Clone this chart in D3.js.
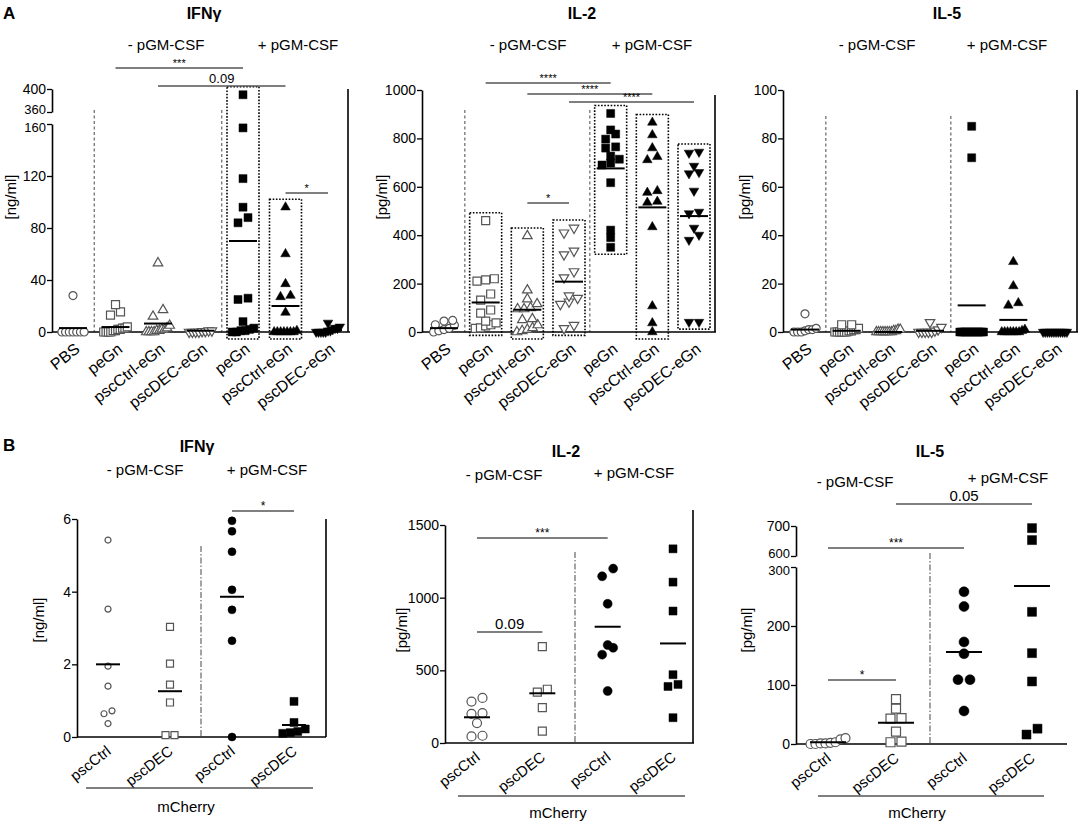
<!DOCTYPE html>
<html>
<head>
<meta charset="utf-8">
<script src="https://cdn.jsdelivr.net/npm/d3@7"></script>
<style>
  body { margin: 0; background: #fff; }
  svg { display: block; }
</style>
</head>
<body>
<svg id="fig" width="1084" height="825"></svg>
<script>
// ---- categories ----
var catsA = ['PBS', 'peGn', 'pscCtrl-eGn', 'pscDEC-eGn', 'peGn', 'pscCtrl-eGn', 'pscDEC-eGn'];
var catsB = ['pscCtrl', 'pscDEC', 'pscCtrl', 'pscDEC'];
var shapesA = ['circle', 'square', 'triangle', 'triangleDown', 'square', 'triangle', 'triangleDown'];
var filledA = [false, false, false, false, true, true, true];
var shapesB = ['circle', 'square', 'circle', 'square'];
var filledB = [false, false, true, true];

// ---- panel A : IFNγ [ng/ml] ----
var ifngA = [
  [28, 0, 0, 0, 0, 0, 0, 0],
  [21, 15.5, 13, 4, 3, 3, 2, 2, 1, 1, 0, 0, 0, 0],
  [53, 17, 12, 5, 3, 2, 2, 1, 1, 0, 0, 0, 0],
  [1, 1, 0.5, 0.5, 0, 0, 0, 0],
  [390, 157, 118, 96, 88, 84, 26, 25, 8, 3, 2, 1, 1, 0, 0],
  [96, 60, 37, 28, 27, 15, 1, 0, 0, 0, 0, 0, 0, 0],
  [7, 4, 3, 3, 2, 1, 1, 0, 0, 0, 0, 0]
];
var ifngAMeans = [3, 3.8, 6.5, 1, 70, 20, 1.5];
var ifngATicksLow = [0, 40, 80, 120, 160];
var ifngATicksHigh = [360, 400];
var ifngASig = [[1, 4, '***'], [2, 5, '0.09'], [5, 6, '*']];

// ---- panel A : IL-2 [pg/ml] ----
var il2A = [
  [48, 45, 30, 28, 15, 10, 5, 0],
  [460, 220, 215, 210, 157, 132, 91, 78, 45, 38, 30, 25, 17, 15],
  [397, 173, 136, 116, 100, 95, 95, 54, 50, 29, 17, 10, 5, 0],
  [430, 410, 335, 320, 250, 225, 150, 140, 125, 115, 28, 15],
  [903, 835, 818, 797, 765, 760, 727, 714, 698, 690, 617, 421, 390, 350],
  [866, 814, 760, 724, 711, 583, 576, 539, 535, 434, 107, 37, 0],
  [744, 740, 686, 660, 655, 583, 496, 490, 430, 401, 380, 41, 41]
];
var il2AMeans = [16, 122, 92, 208, 676, 515, 479];
var il2ATicks = [0, 200, 400, 600, 800, 1000];
var il2ASig = [[1, 4, '****'], [2, 5, '****'], [3, 6, '****'], [2, 3, '*']];

// ---- panel A : IL-5 [pg/ml] ----
var il5A = [
  [7.5, 1.5, 1, 1, 0.5, 0, 0, 0],
  [3, 3, 1.5, 1, 1, 0.5, 0.5, 0, 0, 0, 0, 0, 0],
  [1, 1, 0.5, 0.5, 0, 0, 0, 0, 0, 0, 0, 0],
  [4, 2, 1, 0.5, 0, 0, 0, 0, 0],
  [85, 72, 0, 0, 0, 0, 0, 0, 0, 0, 0, 0, 0],
  [29, 19, 12, 11, 1, 0.5, 0, 0, 0, 0, 0, 0, 0],
  [0, 0, 0, 0, 0, 0, 0, 0, 0, 0, 0, 0]
];
var il5AMeans = [1, 0.5, 0, 0.5, 11, 5, 0];
var il5ATicks = [0, 20, 40, 60, 80, 100];

// ---- panel B : IFNγ [ng/ml] ----
var ifngB = [
  [5.42, 3.52, 1.95, 1.4, 0.72, 0.64, 0.37],
  [3.03, 2.02, 1.44, 0.95, 0.05, 0.05],
  [5.95, 5.66, 5.1, 4.05, 3.5, 2.65, 0],
  [0.98, 0.4, 0.22, 0.15, 0.12, 0.1]
];
var ifngBMeans = [2.0, 1.26, 3.86, 0.33];
var ifngBTicks = [0, 2, 4, 6];
var ifngBSig = [[2, 3, '*']];

// ---- panel B : IL-2 [pg/ml] ----
var il2B = [
  [310, 285, 205, 200, 137, 50, 45],
  [663, 370, 350, 243, 82],
  [1200, 1147, 958, 674, 655, 608, 358],
  [1336, 1107, 908, 470, 403, 389, 174]
];
var il2BMeans = [177, 342, 800, 685];
var il2BTicks = [0, 500, 1000, 1500];
var il2BSig = [[0, 2, '***'], [0, 1, '0.09']];

// ---- panel B : IL-5 [pg/ml] ----
var il5B = [
  [10, 8, 3, 2, 1, 1, 0, 0],
  [76, 60, 44, 43, 21, 4, 3],
  [258, 233, 173, 153, 109, 109, 56],
  [693, 653, 224, 154, 106, 26, 16]
];
var il5BMeans = [3, 36, 156, 268];
var il5BTicksLow = [0, 100, 200, 300];
var il5BTicksHigh = [600, 700];
var il5BSig = [[0, 2, '***'], [1, 3, '0.05'], [0, 1, '*']];

var FONT = '"Liberation Sans", Arial, Helvetica, sans-serif';
var svg = d3.select('#fig');

// ---- layout of each panel ----
var panels = [
  {
    data: ifngA, means: ifngAMeans, cats: catsA, shapes: shapesA, filled: filledA,
    x0: 52, x1: 350, c0: 73, c1: 328, yB: 332,
    segs: [{d: [0, 160], r: [332, 124], ticks: ifngATicksLow}, {d: [360, 400], r: [112, 89], ticks: ifngATicksHigh}],
    right: [348, 89], sep: [0, 3], sepTop: 110, sepStyle: '3,2.5',
    boxes: [4, 5], sig: ifngASig, sigY: [68, 86, 193], sigBig: 13, sigSmall: 11,
    headers: [['- pGM-CSF', 166, 50], ['+ pGM-CSF', 298, 50]],
    title: ['IFNγ', 204, 19], ylab: ['[ng/ml]', 16, 197],
    sizes: [8, 8, 8, 8, 8, 8, 8], meanW: 28, rowW: 26, lx: 8, ly: 19, labSize: 16
  },
  {
    data: il2A, means: il2AMeans, cats: catsA, shapes: shapesA, filled: filledA,
    x0: 422, x1: 716, c0: 444, c1: 694, yB: 332,
    segs: [{d: [0, 1000], r: [332, 90], ticks: il2ATicks}],
    right: [715, 95], sep: [0, 3], sepTop: 110, sepStyle: '3,2.5',
    boxes: [1, 2, 3, 4, 5, 6], sig: il2ASig, sigY: [83, 94, 102, 203], sigBig: 13, sigSmall: 11,
    headers: [['- pGM-CSF', 528, 50], ['+ pGM-CSF', 652, 50]],
    title: ['IL-2', 582, 19], ylab: ['[pg/ml]', 387, 197],
    sizes: [8, 8, 8, 8, 8, 8, 8], meanW: 28, rowW: 26, lx: 8, ly: 19, labSize: 16
  },
  {
    data: il5A, means: il5AMeans, cats: catsA, shapes: shapesA, filled: filledA,
    x0: 783, x1: 1078, c0: 805, c1: 1055, yB: 332,
    segs: [{d: [0, 100], r: [332, 90], ticks: il5ATicks}],
    right: [1077, 90], sep: [0, 3], sepTop: 116, sepStyle: '3,2.5',
    boxes: [], sig: [], sigY: [], sigBig: 13, sigSmall: 11,
    headers: [['- pGM-CSF', 877, 50], ['+ pGM-CSF', 1007, 50]],
    title: ['IL-5', 947, 19], ylab: ['[pg/ml]', 750, 197],
    sizes: [8, 8, 8, 8, 8, 8, 8], meanW: 28, rowW: 26, lx: 8, ly: 19, labSize: 16
  },
  {
    data: ifngB, means: ifngBMeans, cats: catsB, shapes: shapesB, filled: filledB,
    x0: 77, x1: 326, c0: 108, c1: 294, yB: 737,
    segs: [{d: [0, 6], r: [737, 519], ticks: ifngBTicks}],
    right: [326, 519], sep: [1], sepTop: 546, sepStyle: '6,2,1.5,2',
    boxes: [], sig: ifngBSig, sigY: [511], sigBig: 15, sigSmall: 12,
    headers: [['- pGM-CSF', 145, 475], ['+ pGM-CSF', 267, 475]],
    title: ['IFNγ', 197, 452], ylab: ['[ng/ml]', 44, 620],
    mcherry: [86, 313, 788, 186, 812],
    sizes: [6, 7, 8, 8], meanW: 24, rowW: 30, lx: 4, ly: 16, labSize: 15
  },
  {
    data: il2B, means: il2BMeans, cats: catsB, shapes: shapesB, filled: filledB,
    x0: 445, x1: 694, c0: 477, c1: 673, yB: 743,
    segs: [{d: [0, 1500], r: [743, 525], ticks: il2BTicks}],
    right: [693, 510], sep: [1], sepTop: 552, sepStyle: '6,2,1.5,2',
    boxes: [], sig: il2BSig, sigY: [538, 632], sigBig: 15, sigSmall: 12,
    headers: [['- pGM-CSF', 504, 480], ['+ pGM-CSF', 634, 478]],
    title: ['IL-2', 566, 457], ylab: ['[pg/ml]', 407, 630],
    mcherry: [458, 685, 796, 558, 818],
    sizes: [9, 8, 9, 8], meanW: 26, rowW: 30, lx: 4, ly: 16, labSize: 15
  },
  {
    data: il5B, means: il5BMeans, cats: catsB, shapes: shapesB, filled: filledB,
    x0: 796, x1: 1067, c0: 828, c1: 1032, yB: 744,
    segs: [{d: [0, 300], r: [744, 567], ticks: il5BTicksLow}, {d: [600, 700], r: [556, 526], ticks: il5BTicksHigh}],
    right: null, sep: [1], sepTop: 553, sepStyle: '6,2,1.5,2',
    boxes: [], sig: il5BSig, sigY: [548, 504, 680], sigBig: 15, sigSmall: 12,
    headers: [['- pGM-CSF', 855, 487], ['+ pGM-CSF', 1008, 483]],
    title: ['IL-5', 930, 457], ylab: ['[pg/ml]', 752, 630],
    mcherry: [818, 1044, 796, 917, 818],
    sizes: [9, 9, 10, 9], meanW: 36, rowW: 40, lx: 4, ly: 16, labSize: 15
  }
];

// broken axis: each segment owns its own linear scale
function yMap(segs) {
  var scales = segs.map(function(s) {
    return d3.scaleLinear().domain(s.d).range(s.r);
  });
  var f = function(v) {
    for (var i = 0; i < segs.length; i++) {
      if (v <= segs[i].d[1] || i === segs.length - 1) return scales[i](v);
    }
  };
  f.scales = scales;
  return f;
}

// points with (almost) equal values are spread side by side, like a scatter dot plot
function swarm(vals, y, size, maxW) {
  var pts = vals.map(function(v) { return {v: v, y: y(v)}; })
    .sort(function(a, b) { return b.y - a.y; });
  var rows = [];
  var cur = null;
  pts.forEach(function(p) {
    if (!cur || cur[0].y - p.y > size * 0.9) {
      cur = [p];
      rows.push(cur);
    } else {
      cur.push(p);
    }
  });
  rows.forEach(function(r) {
    var step = Math.min(size + 2, maxW / r.length);
    r.forEach(function(p, i) {
      p.dx = (i - (r.length - 1) / 2) * step;
    });
  });
  return pts;
}

function symbolPath(shape, d) {
  var type = {circle: d3.symbolCircle, square: d3.symbolSquare, triangle: d3.symbolTriangle, triangleDown: d3.symbolTriangle}[shape];
  var area = shape === 'circle' ? Math.PI * d * d / 4 : (shape === 'square' ? d * d : d * d * 0.62);
  return d3.symbol().type(type).size(area)();
}

function addText(g, t, x, y, size, opts) {
  opts = opts || {};
  return g.append('text')
    .attr('x', x).attr('y', y)
    .attr('text-anchor', opts.anchor || 'middle')
    .attr('font-family', FONT)
    .attr('font-size', size)
    .attr('font-weight', opts.bold ? 'bold' : null)
    .attr('fill', '#000')
    .text(t);
}

function drawPanel(p) {
  var g = svg.append('g');
  var x = d3.scalePoint().domain(d3.range(p.cats.length)).range([p.c0, p.c1]);
  var y = yMap(p.segs);

  // separators between groups
  p.sep.forEach(function(i) {
    var sx = (x(i) + x(i + 1)) / 2;
    g.append('line')
      .attr('x1', sx).attr('x2', sx).attr('y1', p.sepTop).attr('y2', p.yB)
      .attr('stroke', '#666').attr('stroke-width', 1.2)
      .attr('stroke-dasharray', p.sepStyle);
  });

  // dotted boxes around groups
  p.boxes.forEach(function(i) {
    var ext = d3.extent(p.data[i]);
    var top = y(ext[1]) - 8;
    var bot = y(ext[0]) + 7;
    g.append('rect')
      .attr('x', x(i) - 16).attr('y', top)
      .attr('width', 32).attr('height', bot - top)
      .attr('fill', 'none').attr('stroke', '#000')
      .attr('stroke-width', 1.6).attr('stroke-dasharray', '1.6,1.6');
  });

  // y axis (one piece per segment)
  var broken = p.segs.length > 1;
  p.segs.forEach(function(s, k) {
    var ax = g.append('g')
      .attr('transform', 'translate(' + p.x0 + ',0)')
      .call(d3.axisLeft(y.scales[k]).tickValues(s.ticks).tickSize(5).tickSizeOuter(0).tickPadding(1)
        .tickFormat(function(d) { return String(d); }));
    ax.attr('font-family', FONT).attr('font-size', 14);
    ax.select('.domain').attr('stroke-width', 1.6);
    ax.selectAll('.tick line').attr('stroke-width', 1.3);
    if (broken) {
      // labels on both sides of the break sit very close: nudge them apart
      var edge = k === 0 ? d3.max(s.ticks) : d3.min(s.ticks);
      ax.selectAll('.tick text')
        .filter(function(d) { return d === edge; })
        .attr('font-size', 13)
        .attr('y', k === 0 ? 3 : -3);
    }
  });

  // x axis line
  g.append('line')
    .attr('x1', p.x0).attr('x2', p.x1).attr('y1', p.yB).attr('y2', p.yB)
    .attr('stroke', '#000').attr('stroke-width', 1.6);

  if (p.right) {
    g.append('line')
      .attr('x1', p.right[0]).attr('x2', p.right[0]).attr('y1', p.right[1]).attr('y2', p.yB)
      .attr('stroke', '#000').attr('stroke-width', 1.6);
  }

  // category labels
  p.cats.forEach(function(c, i) {
    g.append('text')
      .attr('transform', 'translate(' + (x(i) + p.lx) + ',' + (p.yB + p.ly) + ') rotate(-38)')
      .attr('text-anchor', 'end')
      .attr('font-family', FONT).attr('font-size', p.labSize)
      .text(c);
  });

  // points
  p.data.forEach(function(vals, i) {
    var size = p.sizes[i];
    var pts = swarm(vals, y, size, p.rowW);
    g.append('g').selectAll('path')
      .data(pts)
      .enter()
      .append('path')
      .attr('d', symbolPath(p.shapes[i], size))
      .attr('transform', function(d) {
        return 'translate(' + (x(i) + d.dx) + ',' + d.y + ')' + (p.shapes[i] === 'triangleDown' ? ' rotate(180)' : '');
      })
      .attr('fill', p.filled[i] ? '#000' : '#fff')
      .attr('stroke', p.filled[i] ? '#000' : '#555')
      .attr('stroke-width', p.filled[i] ? 0.5 : 1.2);
  });

  // means
  g.append('g').selectAll('line')
    .data(p.means)
    .enter()
    .append('line')
    .attr('x1', function(d, i) { return x(i) - p.meanW / 2; })
    .attr('x2', function(d, i) { return x(i) + p.meanW / 2; })
    .attr('y1', function(d) { return y(d); })
    .attr('y2', function(d) { return y(d); })
    .attr('stroke', '#000').attr('stroke-width', 2);

  // significance bars
  p.sig.forEach(function(s, k) {
    var sy = p.sigY[k];
    g.append('line')
      .attr('x1', x(s[0])).attr('x2', x(s[1])).attr('y1', sy).attr('y2', sy)
      .attr('stroke', '#555').attr('stroke-width', 1.3);
    var isNum = s[2].indexOf('*') < 0;
    addText(g, s[2], (x(s[0]) + x(s[1])) / 2, sy - (isNum ? 3 : 1), isNum ? p.sigBig : p.sigSmall);
  });

  p.headers.forEach(function(h) {
    addText(g, h[0], h[1], h[2], 15);
  });
  addText(g, p.title[0], p.title[1], p.title[2], 16, {bold: true});

  g.append('text')
    .attr('transform', 'translate(' + p.ylab[1] + ',' + p.ylab[2] + ') rotate(-90)')
    .attr('text-anchor', 'middle')
    .attr('font-family', FONT).attr('font-size', 15)
    .text(p.ylab[0]);

  if (p.mcherry) {
    var m = p.mcherry;
    g.append('line')
      .attr('x1', m[0]).attr('x2', m[1]).attr('y1', m[2]).attr('y2', m[2])
      .attr('stroke', '#555').attr('stroke-width', 1.3);
    addText(g, 'mCherry', m[3], m[4], 15);
  }
}

panels.forEach(drawPanel);

addText(svg, 'A', 3, 19, 17, {anchor: 'start', bold: true});
addText(svg, 'B', 3, 451, 17, {anchor: 'start', bold: true});
</script>
</body>
</html>
